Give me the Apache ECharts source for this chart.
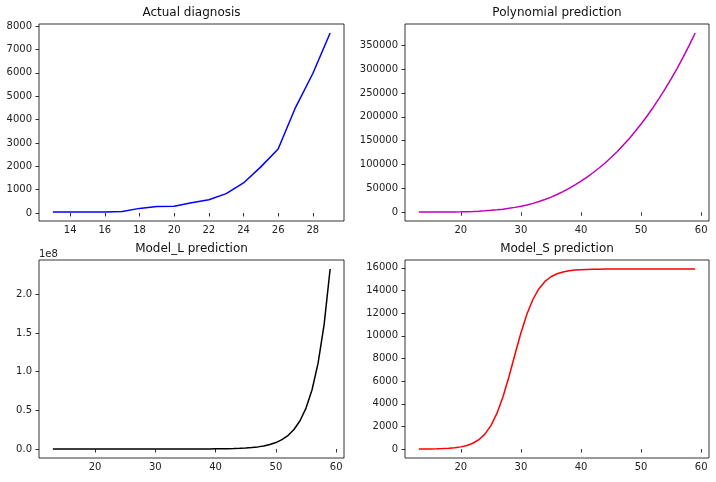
<!DOCTYPE html>
<html><head><meta charset="utf-8">
<script src="https://cdn.jsdelivr.net/npm/echarts@6/dist/echarts.min.js"></script>
<style>html,body{margin:0;padding:0;background:#fff}#c{width:716px;height:482px}</style>
</head><body><div id="c"></div>
<script>
const titles = ['Actual diagnosis', 'Polynomial prediction', 'Model_L prediction', 'Model_S prediction'];

const actualX = [13,14,15,16,17,18,19,20,21,22,23,24,25,26,27,28,29];
const actualY = [41,41,41,45,62,198,275,291,440,571,830,1287,1975,2744,4515,5974,7711];

const predX = [13,14,15,16,17,18,19,20,21,22,23,24,25,26,27,28,29,30,31,32,33,34,35,36,37,38,39,40,41,42,43,44,45,46,47,48,49,50,51,52,53,54,55,56,57,58,59];

const polyY = [500,500,500,500,500,600,700,900,1200,1700,2300,3100,4100,5200,6600,8300,10300,12600,15400,18700,22500,26800,31700,37200,43300,50000,57300,65200,73700,82900,92800,103400,114800,127100,140300,154300,169200,185100,202000,219800,238700,258600,279700,301900,325300,350000,376000];

const modelLY = [9,13,20,28,41,60,86,125,181,262,379,549,795,1150,1670,2400,3500,5100,7300,10600,15400,22300,32300,46700,67600,97900,141800,205000,297000,431000,624000,903000,1308000,1890000,2740000,3970000,5750000,8320000,12050000,17450000,25300000,36600000,53000000,76700000,111100000,160900000,233000000];

const modelSY = [6,10,16,26,43,72,118,193,316,514,829,1323,2069,3145,4595,6381,8347,10265,11929,13229,14165,14800,15215,15477,15641,15742,15804,15841,15864,15878,15887,15892,15895,15897,15898,15899,15899,15900,15900,15900,15900,15900,15900,15900,15900,15900,15900];

const actualXTicks = [14,16,18,20,22,24,26,28];
const predXTicks = [20,30,40,50,60];
const actualYTicks = [0,1000,2000,3000,4000,5000,6000,7000,8000];
const polyYTicks = [0,50000,100000,150000,200000,250000,300000,350000];
const modelLYTicks = [0,50000000,100000000,150000000,200000000];
const modelSYTicks = [0,2000,4000,6000,8000,10000,12000,14000,16000];

const FONT = 'DejaVu Sans';
const grids = [
  {left:39, top:24, width:305, height:197},
  {left:405, top:24, width:304, height:197},
  {left:39, top:260, width:305, height:198},
  {left:405, top:260, width:304, height:198}
];
function lim(arr){ const mn=Math.min(...arr), mx=Math.max(...arr), p=(mx-mn)*0.05; return [mn-p, mx+p]; }
function axis(i, range, ticks, isX, fmt){
  return {
    type:'value', gridIndex:i, min:range[0], max:range[1],
    axisLine:{show:false}, splitLine:{show:false},
    axisTick:{show:true, inside:false, length:3.5, customValues:ticks, lineStyle:{color:'#000', width:0.8}},
    axisLabel:{customValues:ticks, margin: isX ? 4 : 7, color:'#222', fontFamily:FONT, fontSize:10,
      formatter: fmt || (v => String(Math.round(v)))}
  };
}
const series = [
  [actualX, actualY, '#0000ff'],
  [predX, polyY, '#bf00bf'],
  [predX, modelLY, '#000000'],
  [predX, modelSY, '#ff0000']
];
const option = {
  animation:false,
  backgroundColor:'#fff',
  grid: grids.map(g => Object.assign({show:true, borderColor:'#000', borderWidth:0.8, backgroundColor:'transparent'}, g)),
  xAxis: [
    axis(0, lim(actualX), actualXTicks, true),
    axis(1, lim(predX), predXTicks, true),
    axis(2, lim(predX), predXTicks, true),
    axis(3, lim(predX), predXTicks, true)
  ],
  yAxis: [
    axis(0, lim(actualY), actualYTicks, false),
    axis(1, lim(polyY), polyYTicks, false),
    axis(2, lim(modelLY), modelLYTicks, false, v => (v/1e8).toFixed(1)),
    axis(3, lim(modelSY), modelSYTicks, false)
  ],
  series: series.map((s, i) => ({
    type:'line', xAxisIndex:i, yAxisIndex:i, showSymbol:false, symbol:'none', silent:true,
    data: s[0].map((x, k) => [x, s[1][k]]),
    lineStyle:{color:s[2], width:1.5}
  })),
  graphic: [
    ...titles.map((t, i) => ({
      type:'text', x: grids[i].left + grids[i].width/2, y: grids[i].top - 11,
      style:{text:t, textAlign:'center', textVerticalAlign:'middle', font:'12px "DejaVu Sans"', fill:'#111'}
    })),
    {type:'text', x:39, y:254, style:{text:'1e8', textAlign:'left', textVerticalAlign:'middle', font:'10px "DejaVu Sans"', fill:'#222'}}
  ]
};
const chart = echarts.init(document.getElementById('c'), null, {renderer:'canvas'});
chart.setOption(option);
</script>
</body></html>
